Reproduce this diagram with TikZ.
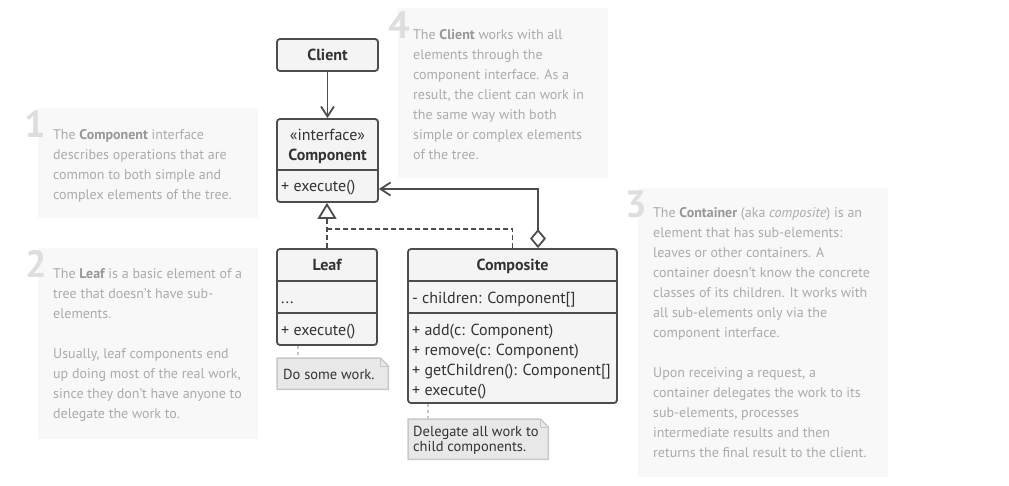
\documentclass[tikz,border=0pt]{standalone}
\usepackage{fontspec}
\setmainfont{PT Sans}
\usetikzlibrary{arrows.meta, positioning, calc}

\newcommand{\infobf}[1]{{\bfseries\color{infobold}#1}}

\begin{document}
\begin{tikzpicture}[x=1pt, y=-1pt,
    classbox/.style={draw=umlline, fill=umlfill, line width=1.8pt, rounded corners=3pt, inner sep=0pt},
    umltext/.style={text=umlink, font=\fontsize{16}{20}\selectfont, inner sep=0pt, text height=13.5pt, text depth=1.5pt},
    umltitle/.style={umltext, font=\fontsize{16}{20}\selectfont\bfseries},
    umlsep/.style={draw=umlline, line width=1.8pt},
    assoc/.style={draw=umlline, line width=1.8pt, -{Straight Barb[length=10pt, width=13pt]}},
    realize/.style={draw=umlline, line width=1.8pt, dash pattern=on 5pt off 3pt},
    notebox/.style={inner sep=0pt},
    noteframe/.style={draw=noteline, fill=notefill, line width=1.5pt, line join=round},
    notetext/.style={text=umlink, font=\fontsize{14.5}{15}\selectfont, inner sep=0pt, align=left},
    notelink/.style={draw=noteline, line width=1.2pt, dash pattern=on 3pt off 3pt},
    infobox/.style={fill=infofill, inner sep=0pt},
    infotext/.style={text=infoink, font=\fontsize{14}{20}\selectfont, inner sep=0pt, align=left},
    infonum/.style={text=infonum, font=\fontsize{38}{38}\selectfont\bfseries, inner sep=0pt}]

    % colours
    \definecolor{umlline}{HTML}{4D4D4D}
    \definecolor{umlfill}{HTML}{F4F4F4}
    \definecolor{umlink}{HTML}{333333}
    \definecolor{notefill}{HTML}{E8E8E8}
    \definecolor{noteline}{HTML}{C8C8C8}
    \definecolor{infofill}{HTML}{F8F8F8}
    \definecolor{infoink}{HTML}{ABABAB}
    \definecolor{infobold}{HTML}{979797}
    \definecolor{infonum}{HTML}{DEDEDE}

    \useasboundingbox (0,0) rectangle (1009,486);

    % 1. Explanation boxes
    \node[infobox, minimum width=220pt, minimum height=110pt, anchor=north west] (info1) at (38,108) {};
    \node[infotext, anchor=north west] (text1) at (53,125) {\strut The \infobf{Component} interface\\ describes operations that are\\ common to both simple and\\ complex elements of the tree.};
    \node[infonum, anchor=base east] (num1) at (46,138) {1};

    \node[infobox, minimum width=220pt, minimum height=191pt, anchor=north west] (info2) at (38,248) {};
    \node[infotext, anchor=north west] (text2) at (53,264) {\strut The \infobf{Leaf} is a basic element of a\\ tree that doesn't have sub-\\ elements.\\[20pt] Usually, leaf components end\\ up doing most of the real work,\\ since they don't have anyone to\\ delegate the work to.};
    \node[infonum, anchor=base east] (num2) at (47,278) {2};

    \node[infobox, minimum width=250pt, minimum height=289pt, anchor=north west] (info3) at (638,188) {};
    \node[infotext, anchor=north west] (text3) at (653,203) {\strut The \infobf{Container} (aka \textit{composite}) is an\\ element that has sub-elements:\\ leaves or other containers. A\\ container doesn't know the concrete\\ classes of its children. It works with\\ all sub-elements only via the\\ component interface.\\[20pt] Upon receiving a request, a\\ container delegates the work to its\\ sub-elements, processes\\ intermediate results and then\\ returns the final result to the client.};
    \node[infonum, anchor=base east] (num3) at (647,218) {3};

    \node[infobox, minimum width=210pt, minimum height=170pt, anchor=north west] (info4) at (398,8) {};
    \node[infotext, anchor=north west] (text4) at (413,25) {\strut The \infobf{Client} works with all\\ elements through the\\ component interface. As a\\ result, the client can work in\\ the same way with both\\ simple or complex elements\\ of the tree.};
    \node[infonum, anchor=base east] (num4) at (410,39) {4};

    % 2. Classes
    \node[classbox, umltitle, minimum width=101pt, minimum height=32pt] (client) at (327.5,55) {Client};

    \node[classbox, minimum width=101pt, minimum height=83pt] (comp) at (327.5,160.5) {};
    \node[umltext] (compkind) at (327.5,135) {«interface»};
    \node[umltitle] (compname) at (327.5,155) {Component};
    \draw[umlsep] (comp.west |- 0,170) -- (comp.east |- 0,170);
    \node[umltext, anchor=west] (compop) at (281,186) {+ execute()};

    \node[classbox, minimum width=100pt, minimum height=96pt] (leaf) at (327,297) {};
    \node[umltitle] (leafname) at (327,265) {Leaf};
    \draw[umlsep] (leaf.west |- 0,281) -- (leaf.east |- 0,281);
    \draw[umlsep] (leaf.west |- 0,313) -- (leaf.east |- 0,313);
    \node[umltext, anchor=west] (leaffield) at (281,297) {...};
    \node[umltext, anchor=west] (leafop) at (281,329) {+ execute()};

    \node[classbox, minimum width=209pt, minimum height=154pt] (compo) at (512.5,326) {};
    \node[umltitle] (componame) at (512.5,265) {Composite};
    \draw[umlsep] (compo.west |- 0,281) -- (compo.east |- 0,281);
    \draw[umlsep] (compo.west |- 0,313) -- (compo.east |- 0,313);
    \node[umltext, anchor=west] (compofield) at (412,297) {- children: Component[]};
    \foreach \op [count=\i from 0] in {+ add(c: Component), + remove(c: Component), + getChildren(): Component[], + execute()} {
        \node[umltext, anchor=west] (compoop\i) at (412,329+20*\i) {\op};
    }

    % 3. Relations
    \draw[assoc] (client) -- (comp);

    \coordinate (joinpt) at (327.5,229);
    \draw[realize, -{Triangle[open, length=16pt, width=19pt, fill=white]}] (leaf.north) -- (leaf.north |- comp.south);
    \draw[realize] (compo.north) |- (joinpt);

    \coordinate (aggturn) at (538,189);
    \draw[assoc, {Diamond[open, length=19pt, width=16pt, fill=white]}-{Straight Barb[length=10pt, width=13pt]}] (compo.north -| aggturn) -- (aggturn) -- (comp.east |- aggturn);

    % 4. Notes
    \node[notebox, minimum width=111pt, minimum height=31pt, anchor=north west] (leafnote) at (277,358) {};
    \filldraw[noteframe] (leafnote.south west) -- (leafnote.north west) -- ([xshift=-8pt]leafnote.north east) -- ([yshift=-8pt]leafnote.north east) -- (leafnote.south east) -- cycle;
    \draw[draw=noteline, line width=1pt] ([xshift=-8pt]leafnote.north east) -- ([xshift=-8pt, yshift=-8pt]leafnote.north east) -- ([yshift=-8pt]leafnote.north east);
    \node[notetext, anchor=west] (leafnotetext) at (283,374) {Do some work.};
    \draw[notelink] ([xshift=-29pt]leaf.south) -- ([xshift=-29pt]leaf.south |- leafnote.north);

    \node[notebox, minimum width=140pt, minimum height=40pt, anchor=north west] (componote) at (408,419) {};
    \filldraw[noteframe] (componote.south west) -- (componote.north west) -- ([xshift=-8pt]componote.north east) -- ([yshift=-8pt]componote.north east) -- (componote.south east) -- cycle;
    \draw[draw=noteline, line width=1pt] ([xshift=-8pt]componote.north east) -- ([xshift=-8pt, yshift=-8pt]componote.north east) -- ([yshift=-8pt]componote.north east);
    \node[notetext, anchor=north west] (componotetext) at (413,425.5) {\strut Delegate all work to\\ child components.};
    \draw[notelink] ([xshift=-84.5pt]compo.south) -- ([xshift=-84.5pt]compo.south |- componote.north);

\end{tikzpicture}
\end{document}
